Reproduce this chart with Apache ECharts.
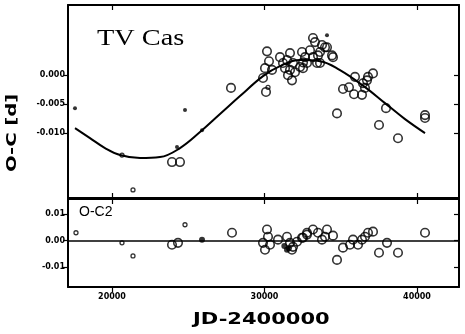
<!DOCTYPE html>
<html>
<head>
<meta charset="utf-8">
<script src="https://cdn.jsdelivr.net/npm/echarts@6/dist/echarts.min.js"></script>
<style>
html,body{margin:0;padding:0;background:#fff;}
#chart{width:465px;height:334px;}
</style>
</head>
<body>
<div id="chart"></div>
<script>
// TV Cas: O-C diagram with fitted curve (upper) and residuals O-C2 (lower)

// upper panel: observed O-C, open circles [JD-2400000, O-C in days]
const ocOpen = [
  [23934,-0.0150],[24459,-0.0150],[27803,-0.0022],[30164,0.0041],[30295,0.0024],
  [30033,0.0012],[30492,0.0009],[29902,-0.0005],[30098,-0.0029],[31672,0.0038],
  [31475,0.0026],[31869,0.0021],[31344,0.0012],[31672,0.0009],[32000,0.0005],
  [31541,0.0000],[31803,-0.0009],[32459,0.0040],[32656,0.0031],[32984,0.0043],
  [33180,0.0064],[33311,0.0057],[33180,0.0031],[33639,0.0040],[32787,0.0021],
  [33443,0.0021],[34098,0.0048],[33770,0.0052],[34426,0.0034],[32328,0.0014],
  [31213,0.0021],[31016,0.0031],[32525,0.0022],[32525,0.0012],[33639,0.0021],
  [34492,0.0031],[35934,-0.0003],[35148,-0.0024],[35541,-0.0021],[35869,-0.0033],
  [36393,-0.0034],[36459,-0.0014],[36721,-0.0009],[36787,-0.0003],[37115,0.0003],
  [36590,-0.0022],[34754,-0.0066],[37508,-0.0086],[37967,-0.0057],[38754,-0.0109],
  [40525,-0.0069],[40525,-0.0074],[33967,0.0048],[33508,0.0034]
];
// upper panel: small open circles
const ocSmall = [[20656,-0.0138],[21377,-0.0198],[30230,-0.0021]];
// upper panel: small filled dots
const ocDots = [[17574,-0.0057],[24787,-0.0060],[25902,-0.0095],[24262,-0.0124],[34098,0.0069]];

// fitted O-C curve
const fitCurve = [
  [17574,-0.00914],[18557,-0.01086],[19541,-0.01259],[20525,-0.01379],[21836,-0.01431],
  [23148,-0.01414],[24459,-0.01259],[25770,-0.00983],[27082,-0.00672],[28393,-0.00362],
  [29902,-0.00017],[31016,0.00155],[32328,0.00259],[33639,0.00241],[34951,0.00086],
  [36590,-0.00207],[37902,-0.00483],[39213,-0.00759],[40525,-0.01000]
];

// lower panel: residuals O-C2
const resOpen = [
  [23934,-0.0015],[24328,-0.0008],[27869,0.0030],[30164,0.0042],[30230,0.0015],
  [29902,-0.0008],[30033,-0.0034],[30361,-0.0015],[30885,0.0004],[31475,0.0015],
  [31672,-0.0008],[31869,-0.0023],[32131,-0.0004],[32459,0.0011],[32787,0.0023],
  [31803,-0.0034],[32525,0.0011],[32787,0.0030],[33180,0.0042],[33508,0.0030],
  [33770,0.0004],[34098,0.0042],[34492,0.0019],[33967,0.0015],[34754,-0.0072],
  [35148,-0.0026],[35607,-0.0015],[35803,0.0004],[36131,-0.0015],[36393,0.0004],
  [36590,0.0015],[36787,0.0030],[37115,0.0034],[37508,-0.0045],[38033,-0.0008],
  [38754,-0.0045],[40525,0.0030]
];
const resSmall = [[17639,0.0030],[20656,-0.0008],[21377,-0.0057],[24787,0.0060]];
const resDots = [[25902,0.0004],[31475,-0.0034],[31300,-0.0020],[31600,-0.0028]];

// tick labels
const xTicks = [20000, 30000, 40000];
const ocTicks = [0, -0.005, -0.010];
const resTicks = [0.01, 0, -0.01];

const X_MIN = 17115, X_MAX = 42754;
const OC_MIN = -0.0212, OC_MAX = 0.0121;
const RES_MIN = -0.01736, RES_MAX = 0.01566;

const tickFont = {fontFamily:'DejaVu Sans', fontWeight:'bold', fontSize:8, color:'#000'};
const line = {lineStyle:{color:'#000', width:2}};

function xAx(grid, pos, inside, labels) {
  return {
    type:'value', gridIndex:grid, position:pos, min:X_MIN, max:X_MAX,
    axisLine:{show:true, onZero:false, lineStyle:{color:'#000', width:2}},
    axisTick:{show:true, inside:inside, length:5, customValues:xTicks, lineStyle:{color:'#000', width:1.2}},
    axisLabel:{show:labels, customValues:xTicks, margin:6, formatter:v=>String(v), ...tickFont},
    splitLine:{show:false}
  };
}
function yAx(grid, pos, inside, labels, min, max, ticks, dec) {
  return {
    type:'value', gridIndex:grid, position:pos, min:min, max:max,
    axisLine:{show:true, onZero:false, lineStyle:{color:'#000', width:2}},
    axisTick:{show:true, inside:inside, length:5, customValues:ticks, lineStyle:{color:'#000', width:1.2}},
    axisLabel:{show:labels, customValues:ticks, margin:3, formatter:v=>v.toFixed(dec), ...tickFont},
    splitLine:{show:false}
  };
}

const openStyle = {color:'rgba(0,0,0,0)', borderColor:'#000', borderWidth:1.6};

const option = {
  animation:false,
  backgroundColor:'#fff',
  grid:[
    {left:68, top:5, right:6, height:193},
    {left:68, top:199, right:6, height:88}
  ],
  xAxis:[
    xAx(0,'bottom',true,false),
    xAx(0,'top',true,false),
    xAx(1,'bottom',false,true),
    xAx(1,'top',true,false)
  ],
  yAxis:[
    yAx(0,'left',false,true,OC_MIN,OC_MAX,ocTicks,3),
    yAx(0,'right',true,false,OC_MIN,OC_MAX,ocTicks,3),
    yAx(1,'left',false,true,RES_MIN,RES_MAX,resTicks,2),
    yAx(1,'right',true,false,RES_MIN,RES_MAX,resTicks,2)
  ],
  series:[
    {type:'line', xAxisIndex:0, yAxisIndex:0, data:fitCurve, smooth:0.4, showSymbol:false,
     lineStyle:{color:'#000', width:2}, z:3},
    {type:'scatter', xAxisIndex:0, yAxisIndex:0, data:ocOpen, symbol:'circle', symbolSize:8.5, itemStyle:openStyle, z:4},
    {type:'scatter', xAxisIndex:0, yAxisIndex:0, data:ocSmall, symbol:'circle', symbolSize:4, itemStyle:{...openStyle, borderWidth:1.3}, z:4},
    {type:'scatter', xAxisIndex:0, yAxisIndex:0, data:ocDots, symbol:'circle', symbolSize:4, itemStyle:{color:'#000'}, z:4},
    {type:'scatter', xAxisIndex:2, yAxisIndex:2, data:resOpen, symbol:'circle', symbolSize:8.5, itemStyle:openStyle, z:4,
     markLine:{silent:true, symbol:'none', label:{show:false}, lineStyle:{color:'#000', width:1.5, type:'solid'},
       data:[{yAxis:0}]}},
    {type:'scatter', xAxisIndex:2, yAxisIndex:2, data:resSmall, symbol:'circle', symbolSize:4, itemStyle:{...openStyle, borderWidth:1.3}, z:4},
    {type:'scatter', xAxisIndex:2, yAxisIndex:2, data:resDots, symbol:'circle', symbolSize:6, itemStyle:{color:'#000'}, z:4}
  ],
  graphic:[
    {type:'text', left:97, top:27, style:{text:'TV Cas', fontFamily:'Liberation Serif', fontSize:24, fill:'#000'}, scaleX:1.18},
    {type:'text', left:79, top:205, style:{text:'O-C2', fontFamily:'Liberation Sans', fontSize:14, fill:'#000'}},
    {type:'text', x:12, y:172, rotation:Math.PI/2, scaleX:1.4,
     style:{text:'O-C [d]', fontFamily:'DejaVu Sans', fontWeight:'bold', fontSize:14, fill:'#000', align:'left', verticalAlign:'middle'}},
    {type:'text', x:193, y:320, scaleX:1.4,
     style:{text:'JD-2400000', fontFamily:'DejaVu Sans', fontWeight:'bold', fontSize:15, fill:'#000', align:'left', verticalAlign:'middle'}}
  ]
};

echarts.init(document.getElementById('chart')).setOption(option);
</script>
</body>
</html>
